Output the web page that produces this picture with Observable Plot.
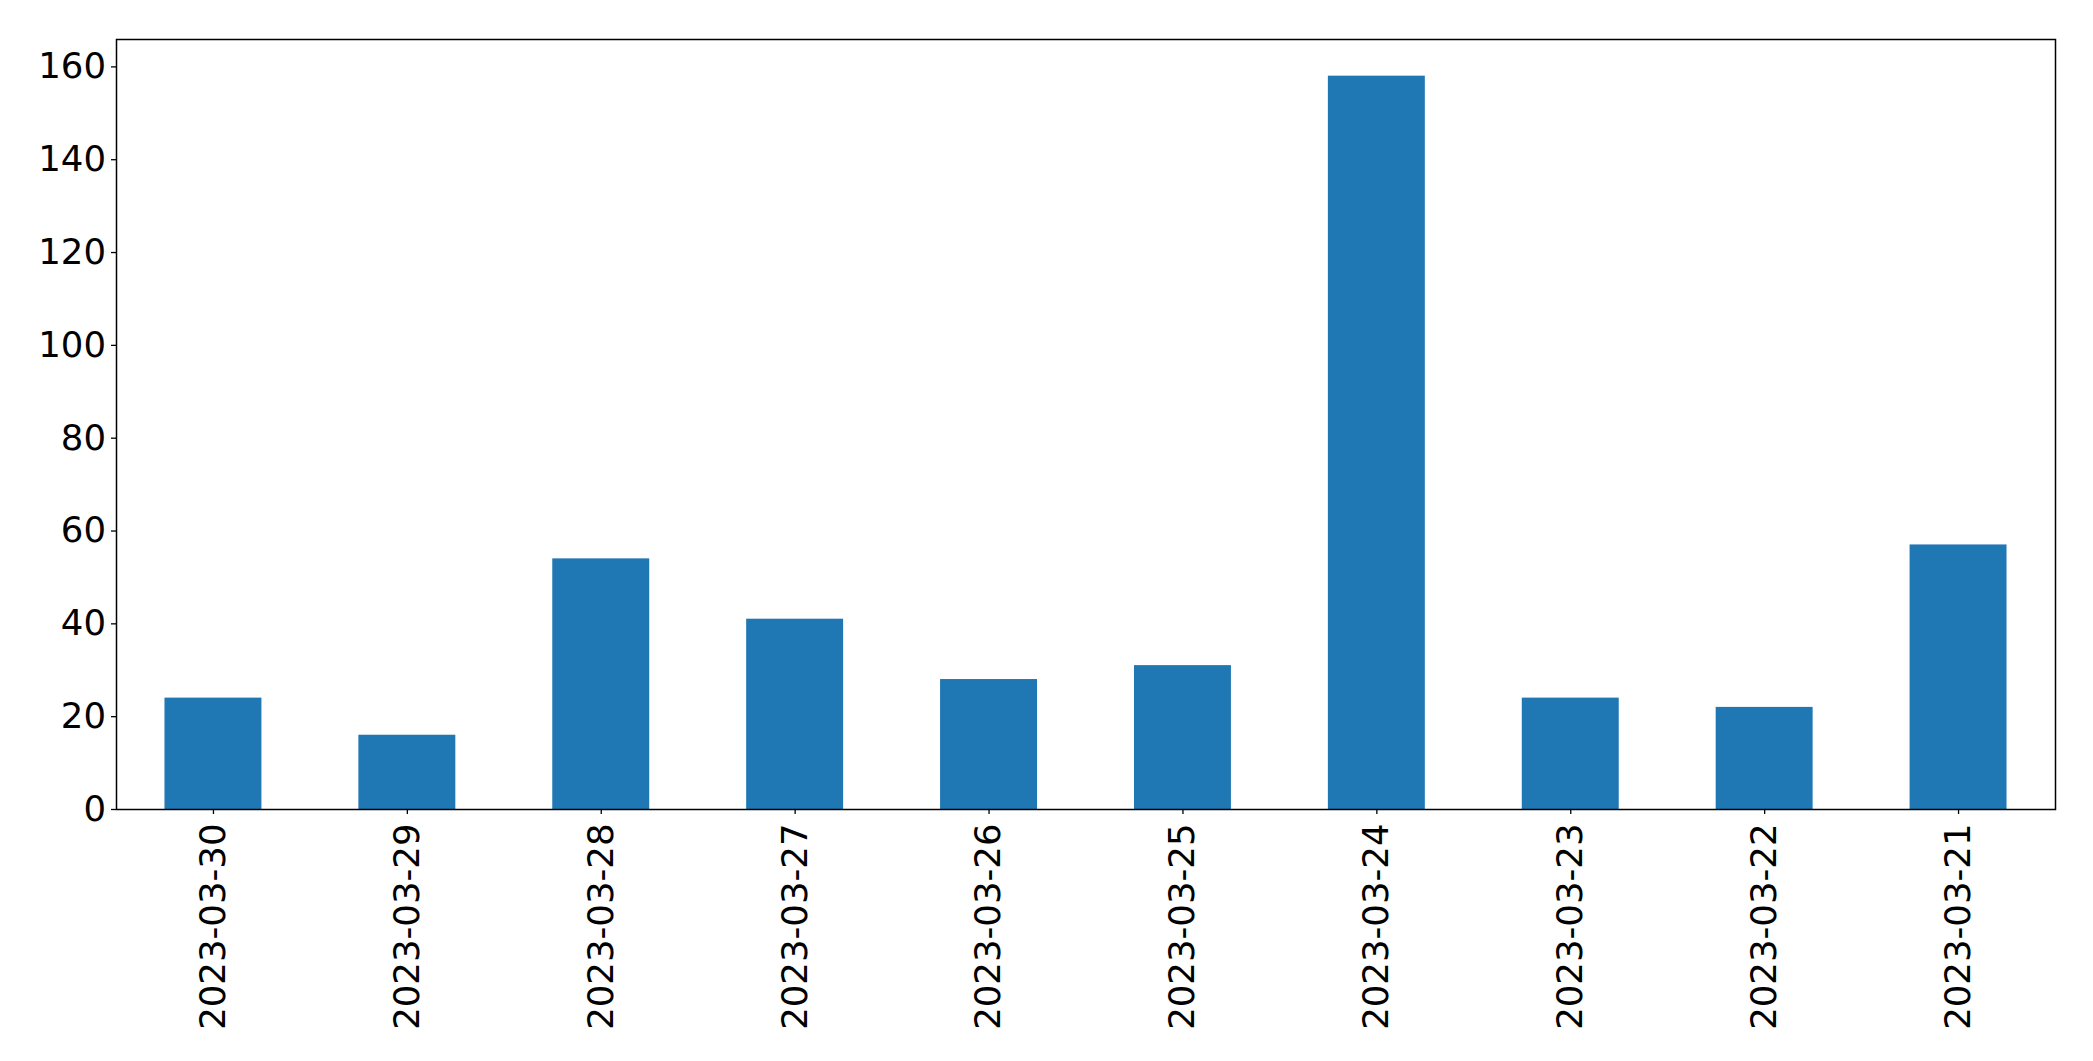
<!DOCTYPE html>
<html>
<head>
<meta charset="utf-8">
<script src="https://cdn.jsdelivr.net/npm/d3@7"></script>
<script src="https://cdn.jsdelivr.net/npm/@observablehq/plot@0.6"></script>
<style>
  html, body { margin: 0; padding: 0; background: #fff; }
  #chart svg { display: block; }
</style>
</head>
<body>
<div id="chart"></div>
<script>
const dates = ["2023-03-30", "2023-03-29", "2023-03-28", "2023-03-27", "2023-03-26",
               "2023-03-25", "2023-03-24", "2023-03-23", "2023-03-22", "2023-03-21"];
const counts = [24, 16, 54, 41, 28, 31, 158, 24, 22, 57];
const yTicks = [0, 20, 40, 60, 80, 100, 120, 140, 160];

const data = dates.map((d, i) => ({date: d, count: counts[i]}));

const chart = Plot.plot({
  width: 2093,
  height: 1061,
  marginLeft: 116,
  marginRight: 38,
  marginTop: 39,
  marginBottom: 252,
  style: {fontFamily: "DejaVu Sans", fontSize: "35.5px", color: "black", background: "white"},
  x: {type: "band", domain: dates, paddingInner: 0.5, paddingOuter: 0.25, round: false, label: null},
  y: {domain: [0, 165.9], label: null},
  marks: [
    Plot.barY(data, {x: "date", y: "count", fill: "#1f77b4"}),
    Plot.axisY({ticks: yTicks, tickSize: 5, tickPadding: 5.5, fontSize: 35.5, label: null, stroke: "black", strokeWidth: 1.3}),
    Plot.axisX({tickSize: 5, tickPadding: 9, tickRotate: -90, fontSize: 35.5, label: null, stroke: "black", strokeWidth: 1.3}),
    Plot.frame({stroke: "black", strokeWidth: 1.5})
  ]
});
document.getElementById("chart").appendChild(chart);
</script>
</body>
</html>
